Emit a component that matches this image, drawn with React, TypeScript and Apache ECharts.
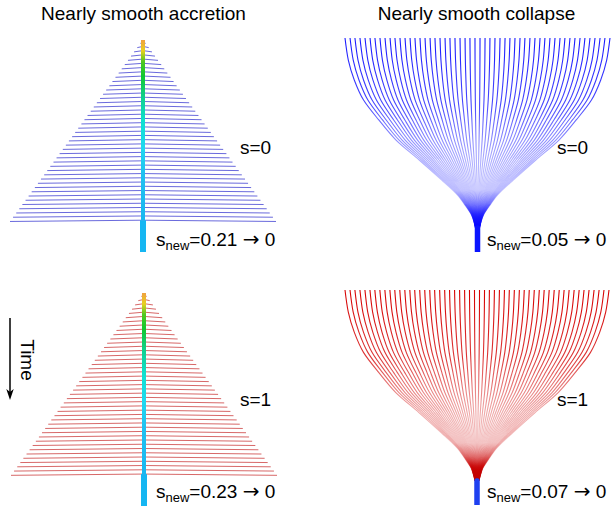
import { useEffect, useRef } from "react";
import * as echarts from "echarts";

// ---------- data ----------
const panelTitles = ["Nearly smooth accretion", "Nearly smooth collapse"];
const sLabels = ["s=0", "s=0", "s=1", "s=1"];
const sNewValues = ["0.21", "0.05", "0.23", "0.07"];

// accretion trees: time of each branch (0 = top, 1 = bottom of trunk) and branch half-width (-1..1 scale)
const accretionBranchTimes = [
  0.01, 0.03, 0.05, 0.07, 0.09, 0.11, 0.13, 0.15, 0.17, 0.19, 0.21, 0.23, 0.25, 0.27, 0.29,
  0.31, 0.33, 0.35, 0.37, 0.39, 0.41, 0.43, 0.45, 0.47, 0.49, 0.51, 0.53, 0.55, 0.57, 0.59,
  0.61, 0.63, 0.65, 0.67, 0.69, 0.71, 0.73, 0.75, 0.77, 0.79, 0.81, 0.83, 0.85,
];
const accretionBranchHalfWidths = [
  0.02, 0.043, 0.067, 0.09, 0.113, 0.137, 0.16, 0.183, 0.207, 0.23, 0.253, 0.277, 0.3, 0.323,
  0.347, 0.37, 0.393, 0.417, 0.44, 0.463, 0.487, 0.51, 0.533, 0.557, 0.58, 0.603, 0.627, 0.65,
  0.673, 0.697, 0.72, 0.743, 0.767, 0.79, 0.813, 0.837, 0.86, 0.883, 0.907, 0.93, 0.953, 0.977, 1.0,
];
const accretionTipDrop = [0.006];
const accretionTrunkSegments = [
  [0, 0.85],
  [0.85, 1],
];

// collapse trees: leaf positions at the top, and the shared funnel profile
const collapseLeafOffsets = [
  -1.0, -0.962, -0.925, -0.887, -0.849, -0.811, -0.774, -0.736, -0.698, -0.66, -0.623, -0.585,
  -0.547, -0.509, -0.472, -0.434, -0.396, -0.358, -0.321, -0.283, -0.245, -0.208, -0.17, -0.132,
  -0.094, -0.057, -0.019, 0.019, 0.057, 0.094, 0.132, 0.17, 0.208, 0.245, 0.283, 0.321, 0.358,
  0.396, 0.434, 0.472, 0.509, 0.547, 0.585, 0.623, 0.66, 0.698, 0.736, 0.774, 0.811, 0.849, 0.887,
  0.925, 0.962, 1.0,
];
const collapseProfileTimes = [0, 0.103, 0.196, 0.29, 0.383, 0.477, 0.57, 0.664, 0.734, 0.78, 0.827, 0.86, 0.888];
const collapseProfileScale = [1, 0.975, 0.93, 0.86, 0.745, 0.615, 0.44, 0.27, 0.15, 0.095, 0.045, 0.026, 0.015];
const collapseTrunkSegments = [[0.875, 1]];

// ---------- layout / style ----------
const FONT = '"Liberation Sans", Arial, Helvetica, sans-serif';
const ARROW_FONT = '"DejaVu Sans", "Liberation Sans", sans-serif';

type Panel = {
  kind: "acc" | "col";
  left: number;
  top: number;
  width: number;
  height: number;
  line: string;
  stops?: [number, string][];
  trunk?: string;
};

const panels: Panel[] = [
  { kind: "acc", left: 10, top: 40, width: 266, height: 212, line: "#5a5ad8" },
  {
    kind: "col", left: 345, top: 38, width: 265, height: 214, line: "#1a1aff", trunk: "#0a14ff",
    stops: [
      [0, "rgba(25,25,255,1)"], [0.35, "rgba(40,40,255,0.85)"], [0.6, "rgba(70,70,255,0.5)"],
      [0.8, "rgba(90,90,255,0.3)"], [0.92, "rgba(30,30,255,0.5)"], [1, "rgba(0,0,255,0.8)"],
    ],
  },
  { kind: "acc", left: 11, top: 293, width: 266, height: 213, line: "#d35858" },
  {
    kind: "col", left: 345, top: 290, width: 264, height: 215, line: "#d00000", trunk: "#1e40f0",
    stops: [
      [0, "rgba(215,0,0,1)"], [0.35, "rgba(215,20,20,0.85)"], [0.6, "rgba(220,60,60,0.5)"],
      [0.8, "rgba(220,80,80,0.3)"], [0.92, "rgba(200,0,0,0.5)"], [1, "rgba(190,0,0,0.85)"],
    ],
  },
];

const trunkGradientStops: [number, string][] = [
  [0, "#f0a040"], [0.06, "#e8d020"], [0.12, "#50c820"], [0.2, "#10c830"], [0.32, "#10d090"],
  [0.45, "#10e0d0"], [0.6, "#20d8f0"], [0.75, "#20c0f0"], [1, "#18b8f0"],
];

function buildOption() {
  const grid: any[] = [];
  const xAxis: any[] = [];
  const yAxis: any[] = [];
  const series: any[] = [];

  panels.forEach((p, i) => {
    grid.push({ left: p.left, top: p.top, width: p.width, height: p.height, containLabel: false });
    xAxis.push({ gridIndex: i, type: "value", min: -1, max: 1, show: false });
    yAxis.push({ gridIndex: i, type: "value", min: 0, max: 1, inverse: true, show: false });

    if (p.kind === "acc") {
      series.push({
        type: "custom",
        xAxisIndex: i,
        yAxisIndex: i,
        silent: true,
        data: accretionBranchTimes.map((t, k) => [accretionBranchHalfWidths[k], t]),
        renderItem: (_params: any, api: any) => {
          const w = api.value(0);
          const t = api.value(1);
          const c = api.coord([0, t]);
          const l = api.coord([-w, t + accretionTipDrop[0]]);
          const r = api.coord([w, t + accretionTipDrop[0]]);
          return {
            type: "polyline",
            shape: { points: [l, c, r] },
            style: { stroke: p.line, lineWidth: 1, fill: null, opacity: 0.9 },
          };
        },
      });
      series.push({
        type: "custom",
        xAxisIndex: i,
        yAxisIndex: i,
        silent: true,
        z: 5,
        data: accretionTrunkSegments.map((s) => [0, s[0], s[1]]),
        renderItem: (params: any, api: any) => {
          const a = api.coord([0, api.value(1)]);
          const b = api.coord([0, api.value(2)]);
          const wide = params.dataIndex === 1;
          const w = wide ? 6 : 4;
          const fill = wide
            ? "#16b6f2"
            : new echarts.graphic.LinearGradient(
                0, a[1], 0, b[1],
                trunkGradientStops.map(([offset, color]) => ({ offset, color })),
                true
              );
          return {
            type: "rect",
            shape: { x: a[0] - w / 2, y: a[1], width: w, height: b[1] - a[1] },
            style: { fill },
          };
        },
      });
    } else {
      series.push({
        type: "custom",
        xAxisIndex: i,
        yAxisIndex: i,
        silent: true,
        data: collapseLeafOffsets.map((x) => [x, 0]),
        renderItem: (_params: any, api: any) => {
          const x = api.value(0);
          const pts = collapseProfileTimes.map((t, j) => api.coord([x * collapseProfileScale[j], t]));
          const top = api.coord([0, 0]);
          const bot = api.coord([0, collapseProfileTimes[collapseProfileTimes.length - 1]]);
          const grad = new echarts.graphic.LinearGradient(
            0, top[1], 0, bot[1],
            (p.stops || []).map(([offset, color]) => ({ offset, color })),
            true
          );
          return {
            type: "polyline",
            shape: { points: pts, smooth: 0.3 },
            style: { stroke: grad, lineWidth: 1.1, fill: null },
          };
        },
      });
      series.push({
        type: "custom",
        xAxisIndex: i,
        yAxisIndex: i,
        silent: true,
        z: 5,
        data: collapseTrunkSegments.map((s) => [0, s[0], s[1]]),
        renderItem: (_params: any, api: any) => {
          const a = api.coord([0, api.value(1)]);
          const b = api.coord([0, api.value(2)]);
          const w = 5.5;
          return {
            type: "rect",
            shape: { x: a[0] - w / 2, y: a[1], width: w, height: b[1] - a[1], r: [2.5, 2.5, 0, 0] },
            style: { fill: p.trunk },
          };
        },
      });
    }
  });

  const txt = (x: number, y: number, text: string, align = "left") => ({
    type: "text",
    x,
    y,
    silent: true,
    style: { text, fontSize: 19, fontFamily: FONT, fill: "#000", align, verticalAlign: "middle" },
  });
  const subTxt = (x: number, y: number, v: string) => ({
    type: "text",
    x,
    y,
    silent: true,
    style: {
      text: `{a|s}{b|new}{a|=${v} }{c|\u2192}{a| 0}`,
      fill: "#000",
      align: "left",
      verticalAlign: "middle",
      rich: {
        a: { fontSize: 19, fontFamily: FONT, lineHeight: 26, verticalAlign: "middle", fill: "#000" },
        b: { fontSize: 13, fontFamily: FONT, lineHeight: 13, verticalAlign: "bottom", fill: "#000" },
        c: { fontSize: 20, fontFamily: ARROW_FONT, lineHeight: 26, verticalAlign: "middle", fill: "#000" },
      },
    },
  });

  const graphic: any[] = [
    txt(143.5, 13, panelTitles[0], "center"),
    txt(476.5, 13, panelTitles[1], "center"),
    txt(240, 147, sLabels[0]),
    txt(557, 147, sLabels[1]),
    txt(240, 399, sLabels[2]),
    txt(557, 399, sLabels[3]),
    subTxt(156, 239, sNewValues[0]),
    subTxt(487, 239, sNewValues[1]),
    subTxt(156, 491, sNewValues[2]),
    subTxt(487, 491, sNewValues[3]),
    {
      type: "text",
      x: 27,
      y: 360,
      rotation: -Math.PI / 2,
      silent: true,
      style: { text: "Time", fontSize: 19, fontFamily: FONT, fill: "#000", align: "center", verticalAlign: "middle" },
    },
    {
      type: "line",
      silent: true,
      shape: { x1: 10, y1: 318, x2: 10, y2: 393 },
      style: { stroke: "#000", lineWidth: 1.5 },
    },
    {
      type: "polygon",
      silent: true,
      shape: { points: [[6.3, 389], [10, 392], [13.7, 389], [10, 400]] },
      style: { fill: "#000" },
    },
  ];

  return {
    animation: false,
    backgroundColor: "#fff",
    grid,
    xAxis,
    yAxis,
    series,
    graphic,
  };
}

export default function App() {
  const ref = useRef<HTMLDivElement>(null);
  useEffect(() => {
    if (!ref.current) return;
    const chart = echarts.init(ref.current, null, { renderer: "svg" });
    chart.setOption(buildOption() as any);
    return () => chart.dispose();
  }, []);
  return (
    <div
      ref={ref}
      style={{ position: "absolute", left: 0, top: 0, width: 613, height: 512, background: "#fff" }}
    />
  );
}
